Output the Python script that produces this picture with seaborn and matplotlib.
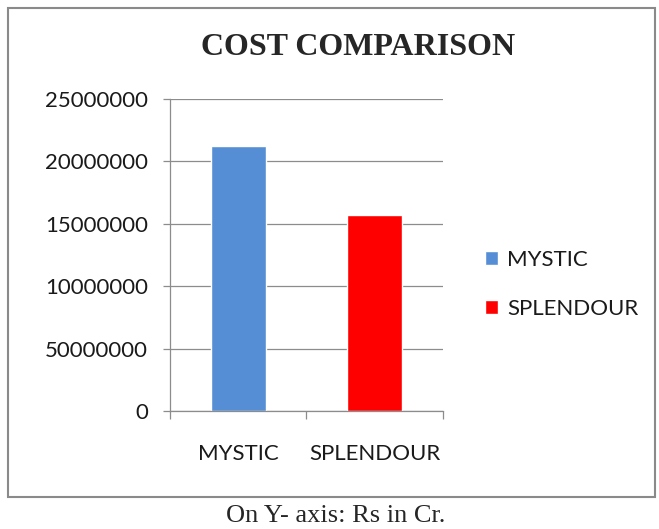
import numpy as np
import pandas as pd
import matplotlib
matplotlib.use("Agg")
import matplotlib.pyplot as plt
from matplotlib.patches import Rectangle
import seaborn as sns

# data
projects = ["MYSTIC", "SPLENDOUR"]
costs = [21230000, 15700000]
bar_colors = ["#558ED5", "#FF0000"]
ytick_values = [0, 5000000, 10000000, 15000000, 20000000, 25000000]
ytick_labels = ["0", "50000000", "10000000", "15000000", "20000000", "25000000"]

df = pd.DataFrame({"Project": projects, "Cost": costs})

sns.set_theme(style="white")
plt.rcParams['font.family'] = ['Lato', 'DejaVu Sans']

fig = plt.figure(figsize=(6.59, 5.29), dpi=100)
ax = fig.add_axes([0.258, 0.223, 0.414, 0.590])

sns.barplot(
    data=df,
    x="Project",
    y="Cost",
    hue="Project",
    palette=bar_colors,
    saturation=1,
    width=0.4,
    legend=True,
    ax=ax,
)

grid_col = "#8c8c8c"
txt_col = "#1a1a1a"
ax.set_ylim(0, 25000000)
ax.set_xlim(-0.5, 1.5)
ax.set_yticks(ytick_values)
ax.set_yticklabels(ytick_labels, fontsize=16, color=txt_col)
ax.yaxis.grid(True, color=grid_col, linewidth=0.9)
ax.set_axisbelow(True)

ax.set_xticks([0, 1])
ax.set_xticklabels(projects, fontsize=16, color=txt_col)
ax.set_xticks([-0.5, 0.5, 1.5], minor=True)
ax.tick_params(axis="x", which="major", length=0, pad=24)
ax.tick_params(axis="x", which="minor", length=6, width=0.9, color=grid_col, bottom=True)
ax.tick_params(axis="y", length=5, width=0.9, color=grid_col, pad=11, left=True)

ax.set_xlabel("")
ax.set_ylabel("")
for side in ["top", "right"]:
    ax.spines[side].set_visible(False)
for side in ["left", "bottom"]:
    ax.spines[side].set_color(grid_col)
    ax.spines[side].set_linewidth(0.9)

leg = ax.legend(
    loc="center left",
    bbox_to_anchor=(0.705, 0.463),
    bbox_transform=fig.transFigure,
    frameon=False,
    fontsize=16,
    handlelength=0.6,
    handleheight=0.6,
    handletextpad=0.4,
    labelspacing=1.3,
)
for t in leg.get_texts():
    t.set_color(txt_col)

fig.text(0.543, 0.91, "COST COMPARISON", ha="center", va="center",
         fontsize=23, fontweight="bold", family="Liberation Serif")
fig.text(0.51, 0.025, "On Y- axis: Rs in Cr.", ha="center", va="center",
         fontsize=19, family="Liberation Serif")

# outer frame
fig.patches.append(Rectangle((8 / 659, 32 / 529), 647 / 659, 489 / 529,
                             transform=fig.transFigure, fill=False,
                             edgecolor="#8a8a8a", linewidth=1.5))

fig.savefig("out.png", dpi=100)
plt.close()
